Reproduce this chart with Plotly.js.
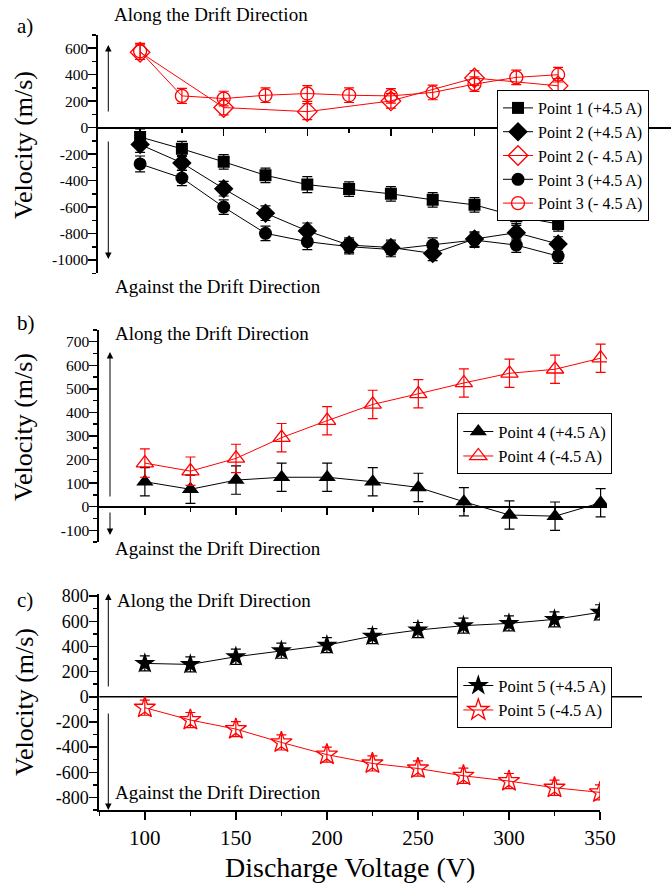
<!DOCTYPE html>
<html>
<head>
<meta charset="utf-8">
<script src="https://cdn.plot.ly/plotly-3.0.1.min.js"></script>
<style>html,body{margin:0;padding:0;background:#fff;font-family:'Liberation Serif',serif;}
.js-plotly-plot text{font-family:'Liberation Serif',serif !important;}</style>
</head>
<body>
<div id="plot" style="width:671px;height:883px"></div>
<script>
// ---------- data ----------
const volt = [100,125,150,175,200,225,250,275,300,325,350];
// panel a
const p1Pos = [-70,-160,-258,-360,-430,-464,-500,-545,-583,-670,-727];
const p2Pos = [-127,-266,-461,-646,-780,-887,-905,-950,-841,-793,-879];
const p2NegVolt = [100,150,200,250,300,350];
const p2Neg = [570,152,121,202,375,316];
const p3Pos = [-274,-380,-600,-798,-861,-899,-920,-887,-849,-887,-970];
const p3Neg = [577,240,220,245,258,245,240,266,329,380,400];
const errA = [60,57,55,55,60,55,55,55,55,55,55];
const errA6 = [55,55,60,55,55,55];
// panel b
const p4Pos = [106,74,113,125,125,106,82,21,-35,-40,17];
const p4Neg = [185,151,205,293,365,434,479,525,566,583,630];
const errB = [60,60,60,60,60,60,60,60,60,60,60];
// panel c
const p5Pos = [265,257,318,366,410,482,530,565,583,615,671];
const p5Neg = [-87,-185,-257,-363,-460,-530,-570,-628,-670,-723,-760];
const errC = [60,60,60,60,60,60,60,60,60,60,60];

const legA = ["Point 1 (+4.5 A)","Point 2 (+4.5 A)","Point 2 (- 4.5 A)","Point 3 (+4.5 A)","Point 3 (- 4.5 A)"];
const legB = ["Point 4 (+4.5 A)","Point 4 (-4.5 A)"];
const legC = ["Point 5 (+4.5 A)","Point 5 (-4.5 A)"];

// ---------- helpers ----------
const W = 671, H = 883;
const px = v => v / W;
const py = v => 1 - v / H;
const FONT = "Liberation Serif";
const RED = "#ff0000", BLK = "#000000";

function tr(x, y, err, name, color, symbol, size, xa, ya, leg, isOpen) {
  return {
    x: x, y: y, name: name, type: "scatter", mode: "lines+markers",
    xaxis: xa, yaxis: ya, legend: leg,
    line: {color: color, width: 1},
    marker: {symbol: symbol, size: size, color: color,
             line: {color: color, width: isOpen ? 1.3 : 0}},
    error_y: {type: "data", array: err, visible: true, color: color, thickness: 1.2, width: 5}
  };
}

const data = [
  tr(volt, p1Pos, errA, legA[0], BLK, "square", 12, "x", "y", "legend", false),
  tr(volt, p2Pos, errA, legA[1], BLK, "diamond", 15, "x", "y", "legend", false),
  tr(p2NegVolt, p2Neg, errA6, legA[2], RED, "diamond-open", 15, "x", "y", "legend", true),
  tr(volt, p3Pos, errA, legA[3], BLK, "circle", 13, "x", "y", "legend", false),
  tr(volt, p3Neg, errA, legA[4], RED, "circle-open", 13, "x", "y", "legend", true),
  tr(volt, p4Pos, errB, legB[0], BLK, "triangle-up", 15, "x2", "y2", "legend2", false),
  tr(volt, p4Neg, errB, legB[1], RED, "triangle-up-open", 15, "x2", "y2", "legend2", true),
  tr(volt, p5Pos, errC, legC[0], BLK, "star", 16, "x3", "y3", "legend3", false),
  tr(volt, p5Neg, errC, legC[1], RED, "star-open", 16, "x3", "y3", "legend3", true)
];

function yax(domain, range, major, minor, fsize) {
  return {
    domain: domain, range: range, showline: true, linewidth: 2, linecolor: BLK,
    ticks: "outside", ticklen: 8, tickwidth: 1.5, tickcolor: BLK, ticklabelstandoff: -3,
    tickmode: "array", tickvals: major, ticktext: major.map(String),
    minor: {tickmode: "array", tickvals: minor, ticks: "outside", ticklen: 4, tickwidth: 1.5, tickcolor: BLK},
    showgrid: false, zeroline: false, tickfont: {family: FONT, size: fsize, color: BLK}, automargin: false, fixedrange: true
  };
}
function xaxFree(domain, range, pos) {
  return {
    domain: domain, range: range, anchor: "free", position: pos,
    showline: true, linewidth: 2, linecolor: BLK,
    ticks: "outside", ticklen: 7, tickwidth: 1.5, tickcolor: BLK,
    tickmode: "array", tickvals: [100,150,200,250,300,350],
    minor: {tickmode: "array", tickvals: [125,175,225,275,325], ticks: "outside", ticklen: 4, tickwidth: 1.5, tickcolor: BLK},
    showticklabels: false, showgrid: false, zeroline: false, automargin: false, fixedrange: true
  };
}
const legFontA = {family: FONT, size: 16, color: BLK};
const legFont = {family: FONT, size: 16.5, color: BLK};
const layout = {
  width: W, height: H, margin: {l: 0, r: 0, t: 0, b: 0},
  paper_bgcolor: "#ffffff", plot_bgcolor: "rgba(0,0,0,0)",
  font: {family: FONT, color: BLK},
  showlegend: true,
  xaxis: xaxFree([px(98.3), 1], [75, 75 + (W - 98.3) / 1.672], py(128.3)),
  yaxis: yax([py(273.3), py(35)], [-1100, 700], [-1000,-800,-600,-400,-200,0,200,400,600], [-1100,-900,-700,-500,-300,-100,100,300,500,700], 15.5),
  xaxis2: xaxFree([px(99.3), px(607)], [75, 353.5], py(506.7)),
  yaxis2: Object.assign(yax([py(542.1), py(329.9)], [-150, 750], [-100,0,100,200,300,400,500,600,700], [-150,-50,50,150,250,350,450,550,650,750], 15.5), {anchor: "x2"}),
  xaxis3: {
    domain: [px(99.3), px(600)], range: [75, 350], anchor: "y3",
    showline: true, linewidth: 2, linecolor: BLK,
    ticks: "outside", ticklen: 8, tickwidth: 1.5, tickcolor: BLK,
    tickmode: "array", tickvals: [100,150,200,250,300,350],
    minor: {tickmode: "array", tickvals: [75,125,175,225,275,325], ticks: "outside", ticklen: 4, tickwidth: 1.5, tickcolor: BLK},
    tickfont: {family: FONT, size: 21, color: BLK},
    showgrid: false, zeroline: false, automargin: false, fixedrange: true
  },
  yaxis3: Object.assign(yax([py(810), py(594.2)], [-900, 815], [-800,-600,-400,-200,0,200,400,600,800], [-900,-700,-500,-300,-100,100,300,500,700], 18), {anchor: "x3"}),
  legend: {x: px(497), y: py(90), xanchor: "left", yanchor: "top", bgcolor: "#ffffff",
           bordercolor: BLK, borderwidth: 1, font: legFontA, tracegroupgap: 0},
  legend2: {x: px(457.3), y: py(413.3), xanchor: "left", yanchor: "top", bgcolor: "#ffffff",
           bordercolor: BLK, borderwidth: 1, font: legFont, tracegroupgap: 0},
  legend3: {x: px(457.3), y: py(667.3), xanchor: "left", yanchor: "top", bgcolor: "#ffffff",
           bordercolor: BLK, borderwidth: 1, font: legFont, tracegroupgap: 0},
  shapes: [
    {type: "line", xref: "paper", yref: "y3", x0: px(99.3), x1: px(642), y0: 0, y1: 0, line: {color: BLK, width: 1.5}, layer: "below"}
  ],
  annotations: []
};

function txt(x, y, s, size, opts) {
  return Object.assign({xref: "paper", yref: "paper", x: px(x), y: py(y), text: s, showarrow: false,
    xanchor: "left", yanchor: "middle", font: {family: FONT, size: size, color: BLK}}, opts || {});
}
function arrow(x, yHead, yTail) {
  return {xref: "paper", yref: "paper", x: px(x), y: py(yHead), ax: 0, ay: yTail - yHead, axref: "pixel", ayref: "pixel",
    text: "", showarrow: true, arrowhead: 2, arrowsize: 1.3, arrowwidth: 1, arrowcolor: BLK};
}
layout.annotations.push(
  txt(15, 26, "a)", 21), txt(15, 323, "b)", 21), txt(15, 600, "c)", 21),
  txt(112, 15, "Along the Drift Direction", 19), txt(113, 287, "Against the Drift Direction", 19),
  txt(113, 333, "Along the Drift Direction", 19), txt(113, 548, "Against the Drift Direction", 19),
  txt(115, 600, "Along the Drift Direction", 19), txt(113, 792, "Against the Drift Direction", 19),
  txt(24, 145, "Velocity (m/s)", 26, {xanchor: "center", textangle: -90}),
  txt(23, 427, "Velocity (m/s)", 26, {xanchor: "center", textangle: -90}),
  txt(24, 702, "Velocity (m/s)", 26, {xanchor: "center", textangle: -90}),
  txt(350, 867, "Discharge Voltage (V)", 28, {xanchor: "center"}),
  arrow(108.3, 45, 113), arrow(108.3, 259, 140),
  arrow(110, 352, 498), arrow(110, 535, 511),
  arrow(108.3, 593.5, 688), arrow(108.3, 810, 712)
);

Plotly.newPlot("plot", data, layout, {displayModeBar: false, staticPlot: true});
</script>
</body>
</html>
